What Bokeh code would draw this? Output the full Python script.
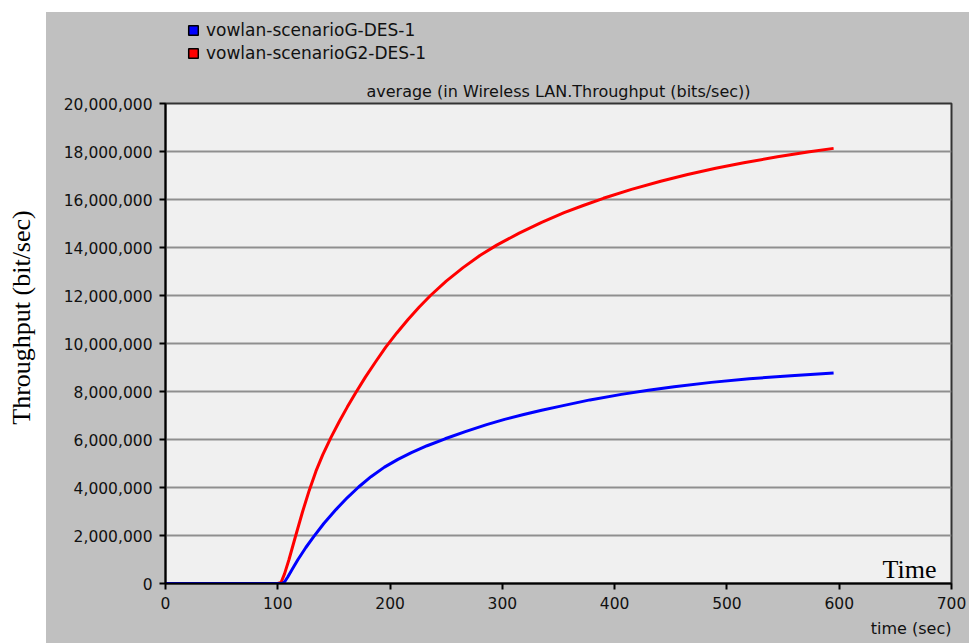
import math
from bokeh.plotting import figure
from bokeh.models import (Range1d, SingleIntervalTicker, NumeralTickFormatter, Label,
                          Legend, LegendItem, Spacer, Title)
from bokeh.layouts import row, column
from bokeh.embed import file_html
from bokeh.resources import INLINE

# ---- data ----
time_g = [0, 100, 104, 106, 109, 113, 118, 125, 132, 141, 152, 162, 172, 183, 195, 207, 219,
          233, 249, 267, 286, 302, 319, 335, 352, 378, 406, 430, 453, 486, 520, 557, 595]
thr_g = [0, 0, 0, 0.06e6, 0.28e6, 0.6e6, 1.0e6, 1.5e6, 1.95e6, 2.5e6, 3.09e6, 3.58e6, 4.02e6,
         4.45e6, 4.85e6, 5.17e6, 5.45e6, 5.74e6, 6.03e6, 6.33e6, 6.62e6, 6.84e6, 7.04e6, 7.22e6,
         7.39e6, 7.65e6, 7.88e6, 8.05e6, 8.2e6, 8.38e6, 8.53e6, 8.66e6, 8.77e6]

time_g2 = [0, 100, 103, 106, 110, 116, 122, 128, 134, 140, 147.5, 155, 162, 169, 178, 187, 196,
           206, 216, 226, 236, 250, 265, 280, 295, 315, 335, 355, 372, 390, 415, 441, 465, 490,
           515, 545, 572, 595]
thr_g2 = [0, 0, 0.05e6, 0.4e6, 1.0e6, 2.0e6, 2.98e6, 3.88e6, 4.68e6, 5.36e6, 6.1e6, 6.77e6,
          7.36e6, 7.92e6, 8.6e6, 9.23e6, 9.84e6, 10.44e6, 11.0e6, 11.52e6, 12.0e6, 12.6e6,
          13.16e6, 13.67e6, 14.1e6, 14.6e6, 15.05e6, 15.45e6, 15.75e6, 16.05e6, 16.42e6,
          16.76e6, 17.04e6, 17.3e6, 17.53e6, 17.78e6, 17.98e6, 18.13e6]

series_names = ["vowlan-scenarioG-DES-1", "vowlan-scenarioG2-DES-1"]
series_colors = ["#0000ff", "#ff0000"]
chart_title = "average (in Wireless LAN.Throughput (bits/sec))"
x_label = "time (sec)"
y_label = "Throughput (bit/sec)"
corner_label = "Time"

SANS = "DejaVu Sans"
SERIF = "Liberation Serif"
PANEL = "#c0c0c0"

# ---- left white strip with the y-axis caption ----
left = figure(width=46, height=643, output_backend="svg", toolbar_location=None,
              x_axis_type=None, y_axis_type=None, x_range=Range1d(0, 46), y_range=Range1d(0, 643),
              min_border=0, outline_line_color=None, background_fill_color="white",
              border_fill_color="white")
left.grid.visible = False
left.add_layout(Label(x=21, y=326, text=y_label, angle=math.pi / 2, text_align="center",
                      text_baseline="middle", text_font=SERIF, text_font_size="26px",
                      text_color="black"))

# ---- top strip holding the legend (its frame is aligned with the main frame) ----
top = figure(width=923, height=65, output_backend="svg", toolbar_location=None,
             x_axis_type=None, y_axis_type=None, x_range=Range1d(0, 786), y_range=Range1d(0, 65),
             min_border=0, outline_line_color=None, background_fill_color=PANEL,
             border_fill_color=PANEL)
top.grid.visible = False
swatches = []
for t, v, c in ((time_g, thr_g, series_colors[0]), (time_g2, thr_g2, series_colors[1])):
    swatches.append(top.quad(left=t, right=t, bottom=v, top=v, fill_color=c,
                             line_color="black", line_width=1.5))
legend = Legend(items=[LegendItem(label=n, renderers=[r]) for n, r in zip(series_names, swatches)],
                location=(22, 14), orientation="vertical",
                background_fill_alpha=0, border_line_color=None,
                glyph_width=12, glyph_height=12, label_standoff=7,
                label_height=20, spacing=3, padding=0, margin=0,
                label_text_font=SANS, label_text_font_size="17px", label_text_color="#111111")
top.add_layout(legend, "center")

# ---- main chart ----
p = figure(width=923, height=566, output_backend="svg", toolbar_location=None, title=None,
           x_range=Range1d(0, 700), y_range=Range1d(0, 20e6),
           min_border_left=119, min_border_right=18, min_border_top=26, min_border_bottom=59,
           background_fill_color="#f0f0f0", border_fill_color=PANEL,
           outline_line_color="#333333", outline_line_width=2)

p.xgrid.visible = False
p.ygrid.grid_line_color = "#8f8f8f"
p.ygrid.grid_line_width = 2

p.xaxis.ticker = SingleIntervalTicker(interval=100)
p.yaxis.ticker = SingleIntervalTicker(interval=2e6)
p.yaxis.formatter = NumeralTickFormatter(format="0,0")
for ax in (p.xaxis, p.yaxis):
    ax.axis_line_color = "black"
    ax.axis_line_width = 2
    ax.major_tick_line_color = "black"
    ax.major_tick_line_width = 2
    ax.major_tick_out = 6
    ax.major_tick_in = 0
    ax.minor_tick_line_color = None
    ax.major_label_text_font = SANS
    ax.major_label_text_font_size = "15.5px"
    ax.major_label_text_color = "#111111"
    ax.major_label_standoff = 7

p.line(time_g2, thr_g2, line_color=series_colors[1], line_width=3)
p.line(time_g, thr_g, line_color=series_colors[0], line_width=3)

p.add_layout(Title(text=chart_title, align="center", text_font=SANS, text_font_size="16px",
                   text_font_style="normal", text_color="#111111", standoff=5), "above")
p.add_layout(Title(text=x_label, align="right", text_font=SANS, text_font_size="16px",
                   text_font_style="normal", text_color="#111111", standoff=11), "below")
p.add_layout(Label(x=700, y=0, text=corner_label, text_align="right", text_baseline="bottom",
                   x_offset=-15, y_offset=0, text_font=SERIF, text_font_size="26px",
                   text_color="black"))

grey_part = column(top, p, spacing=0, styles={"background-color": PANEL})
layout = row(left, column(Spacer(width=923, height=12), grey_part, spacing=0), spacing=0)

open("out.html", "w").write(file_html(layout, INLINE))
